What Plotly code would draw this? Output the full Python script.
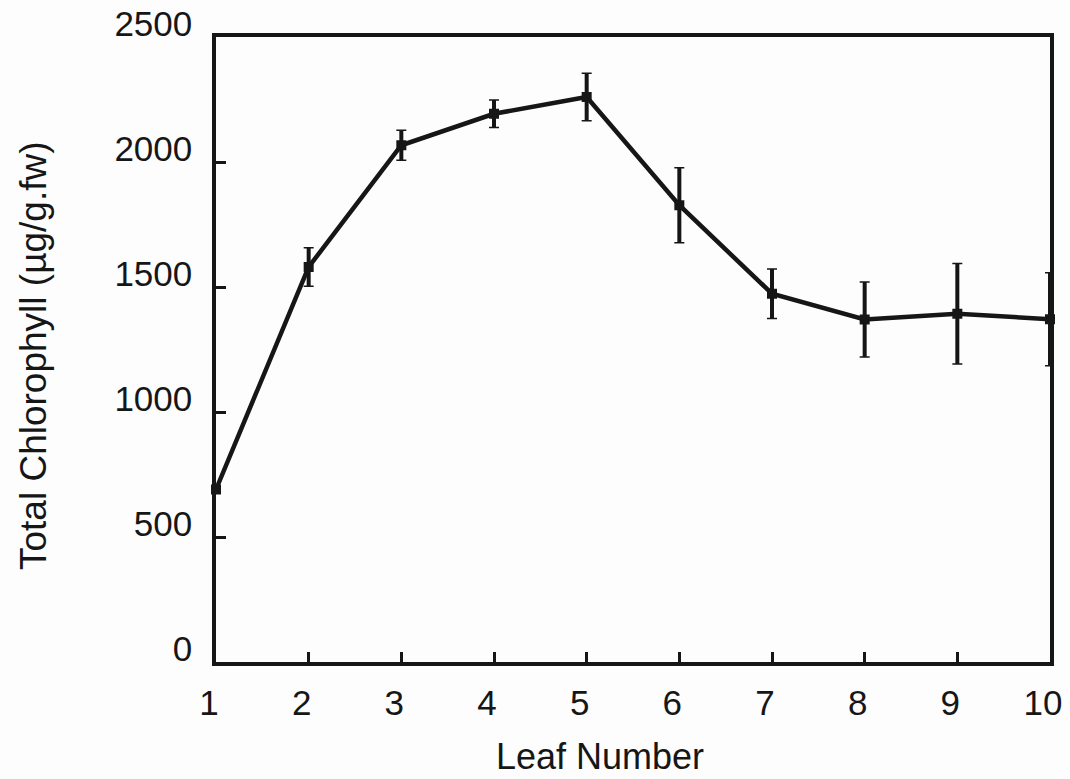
import plotly.graph_objects as go

# Leaf position along the shoot and total chlorophyll content per leaf
leaf_number = [1, 2, 3, 4, 5, 6, 7, 8, 9, 10]
chlorophyll = [690, 1580, 2067, 2193, 2260, 1827, 1473, 1370, 1393, 1371]
chlorophyll_err = [0, 77, 60, 55, 95, 150, 99, 150, 201, 186]

x_ticks = [1, 2, 3, 4, 5, 6, 7, 8, 9, 10]
y_ticks = [0, 500, 1000, 1500, 2000, 2500]

INK = "#161616"
FONT = "Liberation Sans, Arial, sans-serif"

fig = go.Figure()

# thick error stems (no caps)
fig.add_trace(go.Scatter(
    x=leaf_number, y=chlorophyll, mode="lines",
    line=dict(color="rgba(0,0,0,0)", width=0),
    error_y=dict(type="data", array=chlorophyll_err, visible=True,
                 color=INK, thickness=4, width=0),
    hoverinfo="skip", showlegend=False, cliponaxis=False,
))
# thin caps at the ends of each error bar
fig.add_trace(go.Scatter(
    x=leaf_number, y=chlorophyll, mode="lines",
    line=dict(color="rgba(0,0,0,0)", width=0),
    error_y=dict(type="data", array=chlorophyll_err, visible=True,
                 color=INK, thickness=1.5, width=5),
    hoverinfo="skip", showlegend=False, cliponaxis=False,
))
# mean values joined by a line
fig.add_trace(go.Scatter(
    x=leaf_number, y=chlorophyll, mode="lines+markers",
    line=dict(color=INK, width=4.5),
    marker=dict(symbol="square", size=10, color=INK),
    showlegend=False, cliponaxis=False,
))

axis_common = dict(
    showline=True, linecolor=INK, linewidth=3.5, mirror=True,
    showgrid=False, zeroline=False, automargin=False,
    ticks="inside", tickcolor=INK, tickwidth=3, ticklen=10,
    tickfont=dict(family=FONT, size=35, color=INK),
)

fig.update_layout(
    width=1070, height=779,
    margin=dict(l=216, r=20, t=37, b=117),
    paper_bgcolor="#fdfdfd", plot_bgcolor="#fdfdfd",
    xaxis=dict(
        **axis_common,
        range=[1, 10], tickvals=x_ticks, ticktext=[str(v) for v in x_ticks],
        ticklabelstandoff=7, ticklabelshift=-7,
    ),
    yaxis=dict(
        **axis_common,
        range=[0, 2500], tickvals=y_ticks, ticktext=[str(v) for v in y_ticks],
        ticklabelstandoff=13, ticklabelshift=-13,
    ),
    annotations=[
        dict(text="Leaf Number", xref="paper", yref="paper",
             x=(600 - 216) / 834, y=-(756 - 662) / 625,
             xanchor="center", yanchor="middle", showarrow=False,
             font=dict(family=FONT, size=36, color=INK)),
        dict(text="Total Chlorophyll (µg/g.fw)", xref="paper", yref="paper",
             x=-(216 - 33) / 834, y=(662 - 356) / 625, textangle=-90,
             xanchor="center", yanchor="middle", showarrow=False,
             font=dict(family=FONT, size=37, color=INK)),
    ],
)

fig.write_html("out.html")
